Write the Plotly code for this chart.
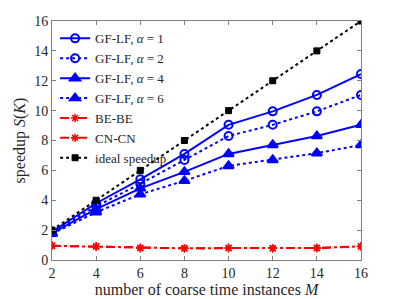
import plotly.graph_objects as go

M = [2, 4, 6, 8, 10, 12, 14, 16]
gf_a1 = [1.9, 3.8, 5.4, 7.1, 9.05, 9.95, 11.05, 12.45]
gf_a2 = [1.85, 3.6, 5.1, 6.7, 8.3, 9.05, 9.95, 11.05]
gf_a4 = [1.8, 3.4, 4.8, 5.9, 7.1, 7.7, 8.3, 9.05]
gf_a6 = [1.75, 3.2, 4.4, 5.3, 6.3, 6.7, 7.15, 7.7]
be_be = [0.95, 0.9, 0.8, 0.78, 0.8, 0.78, 0.8, 0.9]
cn_cn = [0.95, 0.9, 0.8, 0.78, 0.8, 0.78, 0.8, 0.92]
ideal = [2, 4, 6, 8, 10, 12, 14, 16]

x_ticks = [2, 4, 6, 8, 10, 12, 14, 16]
y_ticks = [0, 2, 4, 6, 8, 10, 12, 14, 16]

blue = "#0000ff"
red = "#ff0000"
serif = "Liberation Serif"

fig = go.Figure()

def add(y, name, color, dash, symbol, size, lw=2.0, mlw=2.0):
    fig.add_trace(go.Scatter(
        x=M, y=y, name=name, mode="lines+markers",
        line=dict(color=color, dash=dash, width=lw),
        marker=dict(symbol=symbol, size=size, color=color,
                    line=dict(color=color, width=mlw)),
    ))

add(gf_a1, "GF-LF, <i>α</i> = 1", blue, "solid", "circle-open", 8)
add(gf_a2, "GF-LF, <i>α</i> = 2", blue, "dot", "circle-open", 8)
add(gf_a4, "GF-LF, <i>α</i> = 4", blue, "solid", "triangle-up", 9)
add(gf_a6, "GF-LF, <i>α</i> = 6", blue, "dot", "triangle-up", 9)
add(be_be, "BE-BE", red, "dash", "asterisk-open", 7, mlw=1.5)
add(cn_cn, "CN-CN", red, "dashdot", "asterisk-open", 7, mlw=1.5)
fig.add_trace(go.Scatter(
    x=M, y=ideal, name="ideal speedup", mode="lines+markers",
    line=dict(color="black", dash="dot", width=2),
    marker=dict(symbol="square", size=6, color="black",
                line=dict(color="black", width=1)),
))

axis_common = dict(
    showline=True, linecolor="#808080", linewidth=1, mirror="ticks",
    ticks="inside", ticklen=4, tickcolor="#808080",
    showgrid=False, zeroline=False, automargin=False,
    tickfont=dict(family=serif, size=14, color="#262626"),
)

fig.update_layout(
    width=391, height=291,
    margin=dict(l=44, r=38, t=13, b=39),
    paper_bgcolor="white", plot_bgcolor="white",
    font=dict(family=serif, size=14, color="#262626"),
    showlegend=True,
    legend=dict(x=0.01, y=0.99, xanchor="left", yanchor="top",
                bgcolor="rgba(255,255,255,0)", borderwidth=0,
                font=dict(family=serif, size=13, color="#262626"),
                tracegroupgap=0, itemwidth=30),
    xaxis=dict(range=[2, 16], tickvals=x_ticks,
               title=dict(text="number of coarse time instances <i>M</i>",
                          font=dict(size=16), standoff=0),
               **axis_common),
    yaxis=dict(range=[0, 16], tickvals=y_ticks,
               title=dict(text="speedup <i>S</i>(<i>K</i>)",
                          font=dict(size=16), standoff=4),
               **axis_common),
)

fig.write_html("out.html")
